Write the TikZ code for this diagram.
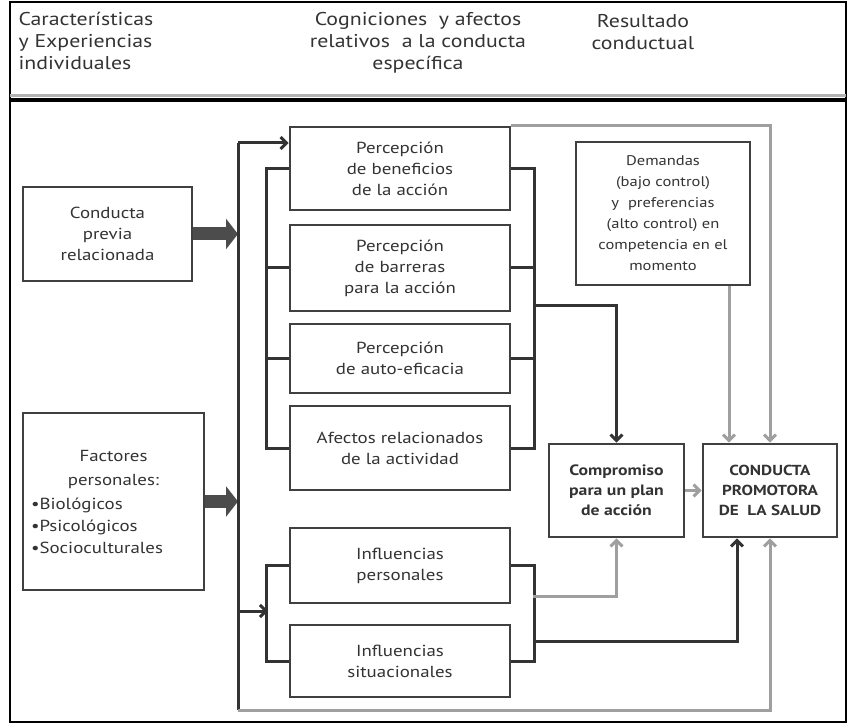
\documentclass[tikz,border=0pt]{standalone}
\usepackage{fontspec}
\setmainfont{PT Sans}[FakeStretch=1.18]
\usepackage{tikz}
\usetikzlibrary{arrows.meta,positioning,calc}

\begin{document}
\begin{tikzpicture}[x=1pt,y=-1pt,
  box/.style={draw=black!75, line width=2.6pt, fill=white, inner sep=2pt, align=center,
    text=black!80, font=\fontsize{16}{21}\selectfont},
  conn/.style={line width=3pt, draw=black!80},
  gconn/.style={line width=3pt, draw=gray!75},
  arrow/.style={conn, -{Straight Barb[length=6pt,width=12pt]}},
  garrow/.style={gconn, -{Straight Barb[length=6pt,width=12pt]}},
  bigarrow/.style={line width=13pt, draw=black!70, -{Triangle[length=12pt,width=30pt]}},
  head/.style={text=black!80, font=\fontsize{18.5}{22}\selectfont}
]
\useasboundingbox (0,0) rectangle (849,727);
\draw[line width=2pt] (10,2) rectangle (846,722);
\draw[line width=2.5pt, gray!60] (10,95.5) -- (846,95.5);
\draw[line width=3.5pt] (10,100) -- (846,100);

\node[head, anchor=west, align=left] (hleft) at (15,41) {Características\\y Experiencias\\individuales};
\node[head, align=center] (hmid) at (418,43) {Cogniciones \ y afectos\\relativos \ a la conducta\\específica};
\node[head, align=center] (hright) at (643,32) {Resultado\\conductual};

\node[box, minimum width=169pt, minimum height=94pt] (prev) at (107.5,234) {Conducta\\previa\\relacionada};
\node[box, minimum width=181pt, minimum height=177pt, font=\fontsize{16}{24}\selectfont] (fact) at (113.5,501.5) {Factores\\personales:\\
  \makebox[165pt][l]{\textbullet Biológicos}\\[-2pt]\makebox[165pt][l]{\textbullet Psicológicos}\\[-2pt]\makebox[165pt][l]{\textbullet Socioculturales}};

\node[box, minimum width=220pt, minimum height=83pt] (ben) at (400,168.5) {Percepción\\de beneficios\\de la acción};
\node[box, minimum width=220pt, minimum height=86pt] (bar) at (400,268) {Percepción\\de barreras\\para la acción};
\node[box, minimum width=220pt, minimum height=69pt] (auto) at (400,358.5) {Percepción\\de auto-eficacia};
\node[box, minimum width=220pt, minimum height=84pt] (afe) at (400,448) {Afectos relacionados\\de la actividad};
\node[box, minimum width=220pt, minimum height=75pt] (ipers) at (400,565.5) {Influencias\\personales};
\node[box, minimum width=220pt, minimum height=72pt] (isit) at (400,661) {Influencias\\situacionales};

\node[box, minimum width=174pt, minimum height=143pt, font=\fontsize{14}{21}\selectfont] (dem) at (663,213.5)
  {Demandas\\(bajo control)\\y \ preferencias\\(alto control) en\\competencia en el\\momento};
\node[box, minimum width=135pt, minimum height=93pt, font=\fontsize{15}{20}\selectfont\bfseries] (comp) at (616.5,490.5)
  {Compromiso\\para un plan\\de acción};
\node[box, minimum width=134pt, minimum height=93pt, font=\fontsize{14.5}{20}\selectfont\bfseries] (prom) at (770,490.5)
  {CONDUCTA\\PROMOTORA\\DE \ LA SALUD};

\coordinate (bustop) at (238,143);
\coordinate (busmid) at (238,611);
\coordinate (busbot) at (238,710);
\coordinate (rtop) at (533,306);
\coordinate (rbot1) at (533,596);
\coordinate (rbot2) at (533,641);
\coordinate (promdem) at ($(prom.north)+(-41,0)$);
\coordinate (promsit) at ($(prom.south)+(-33,0)$);

\draw[bigarrow] (prev.east) -- (prev.east -| bustop);
\draw[bigarrow] (fact.east) -- (fact.east -| bustop);

\draw[conn] (bustop) -- (busbot);
\draw[arrow] (bustop) -- (bustop -| ben.west);
\draw[garrow] (busbot) -| (prom.south);

\draw[conn] (ben.west) -- ++(-22,0) |- (afe.west);
\draw[conn] (bar.west) -- ++(-22,0);
\draw[conn] (auto.west) -- ++(-22,0);
\draw[conn] (ben.east) -- ++(23,0) |- (afe.east);
\draw[conn] (bar.east) -- ++(23,0);
\draw[conn] (auto.east) -- ++(23,0);
\draw[arrow] (rtop) -| (comp.north);

\draw[conn] (ipers.west) -- ++(-22,0) |- (isit.west);
\draw[arrow] (busmid) -- ++(30,0);
\draw[conn] (ipers.east) -- ++(23,0) |- (isit.east);
\draw[garrow] (rbot1) -| (comp.south);
\draw[arrow] (rbot2) -| (promsit);

\draw[garrow] (ben.north east) -| (prom.north);
\draw[garrow] (dem.south -| promdem) -- (promdem);
\draw[garrow] (comp) -- (prom);
\end{tikzpicture}
\end{document}
